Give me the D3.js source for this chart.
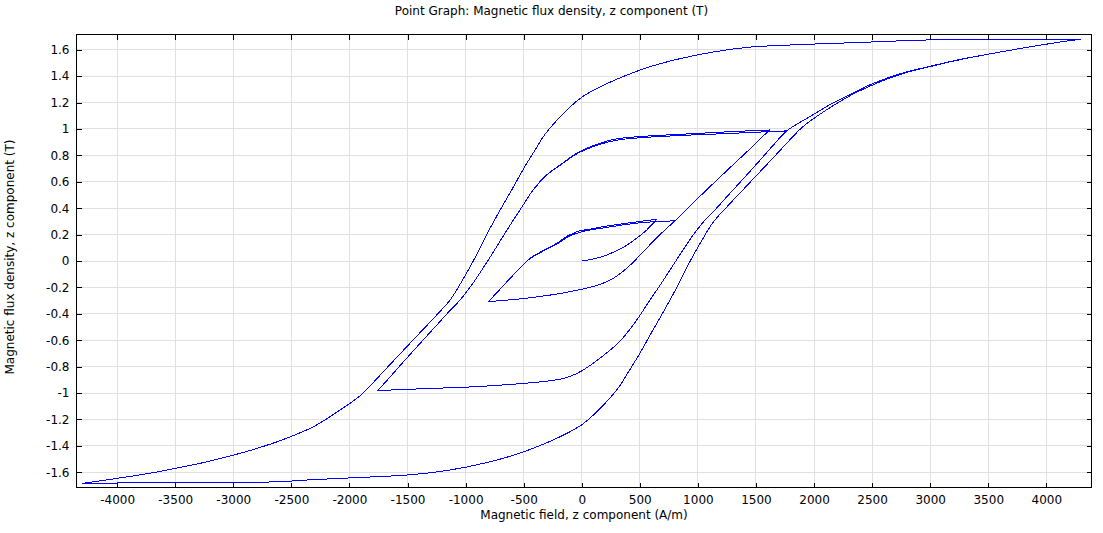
<!DOCTYPE html>
<html><head><meta charset="utf-8">
<script src="https://cdn.jsdelivr.net/npm/d3@7/dist/d3.min.js"></script>
<style>
body{margin:0;background:#fff}
text{font-family:"DejaVu Sans",sans-serif;font-size:12px;fill:#000}
</style>
</head><body>
<svg id="c" width="1103" height="533"></svg>
<script>
// ---- data (H in A/m, B in T) ----
const xTicks = [-4000,-3500,-3000,-2500,-2000,-1500,-1000,-500,0,500,1000,1500,2000,2500,3000,3500,4000];
const yTicks = [-1.6,-1.4,-1.2,-1,-0.8,-0.6,-0.4,-0.2,0,0.2,0.4,0.6,0.8,1,1.2,1.4,1.6];
const yTickLabels = ["-1.6","-1.4","-1.2","-1","-0.8","-0.6","-0.4","-0.2","0","0.2","0.4","0.6","0.8","1","1.2","1.4","1.6"];

const initH = [0, 100, 215, 350, 473, 560, 646];
const initB = [0, 0.015, 0.045, 0.10, 0.172, 0.235, 0.316];

const smallUp1H = [646, 520, 387, 200, 50, -15, -120, -215, -330, -445, -530, -617, -710, -804];
const smallUp1B = [0.316, 0.302, 0.286, 0.262, 0.238, 0.23, 0.19, 0.134, 0.08, 0.02, -0.05, -0.131, -0.22, -0.308];

const smallUp2H = [803, 700, 531, 387, 200, 0, -120, -215, -330, -445, -530, -617, -710, -804];
const smallUp2B = [0.305, 0.300, 0.292, 0.277, 0.252, 0.222, 0.182, 0.128, 0.076, 0.018, -0.052, -0.132, -0.22, -0.308];

const smallLowH = [-804, -700, -560, -400, -250, -100, 0, 150, 272, 400, 530, 650, 803, 1018, 1250, 1450, 1560, 1620];
const smallLowB = [-0.308, -0.300, -0.29, -0.273, -0.255, -0.232, -0.214, -0.18, -0.131, -0.045, 0.07, 0.18, 0.305, 0.49, 0.685, 0.85, 0.945, 0.992];

const midUp1H = [1620, 1300, 1018, 750, 502, 300, 158, 60, -43, -187, -301, -417, -503, -589, -700, -810, -950, -1047, -1150, -1250, -1350, -1450, -1550, -1650, -1759];
const midUp1B = [0.992, 0.980, 0.967, 0.955, 0.942, 0.925, 0.892, 0.86, 0.816, 0.727, 0.652, 0.54, 0.425, 0.31, 0.155, 0.0, -0.185, -0.295, -0.39, -0.487, -0.583, -0.68, -0.778, -0.878, -0.983];

const midUp2H = [1765, 1500, 1200, 1018, 750, 502, 300, 158, 60, -43, -187, -301, -417];
const midUp2B = [0.985, 0.975, 0.963, 0.957, 0.946, 0.933, 0.915, 0.884, 0.853, 0.811, 0.725, 0.651, 0.54];

const midLowH = [-1759, -1600, -1300, -919, -700, -503, -300, -158, -50, 57, 180, 315, 430, 510, 588, 700, 810, 950, 1047, 1150, 1250, 1350, 1450, 1550, 1650, 1765, 1964, 2150, 2311, 2511, 2750, 2999, 3250, 3501, 3750, 4003, 4150, 4300];
const midLowB = [-0.983, -0.975, -0.965, -0.952, -0.94, -0.927, -0.91, -0.889, -0.855, -0.80, -0.72, -0.62, -0.50, -0.40, -0.295, -0.15, 0.0, 0.185, 0.295, 0.39, 0.487, 0.583, 0.68, 0.778, 0.878, 0.985, 1.093, 1.19, 1.262, 1.345, 1.42, 1.474, 1.525, 1.566, 1.605, 1.642, 1.662, 1.680];

const bigUpH = [4300, 3750, 2999, 2311, 2040, 1700, 1442, 1150, 826, 550, 301, 150, 0, -120, -230, -320, -402, -500, -603, -700, -800, -934, -1040, -1133, -1250, -1400, -1550, -1700, -1800, -1908, -2100, -2311, -2583, -2800, -3000, -3250, -3502, -3750, -4003, -4150, -4300];
const bigUpB = [1.680, 1.678, 1.674, 1.652, 1.644, 1.632, 1.619, 1.585, 1.528, 1.46, 1.376, 1.315, 1.24, 1.15, 1.05, 0.955, 0.84, 0.70, 0.538, 0.39, 0.23, 0.0, -0.165, -0.295, -0.41, -0.55, -0.69, -0.83, -0.925, -1.02, -1.14, -1.255, -1.356, -1.42, -1.47, -1.525, -1.571, -1.612, -1.646, -1.665, -1.684];

const bigLowH = [-4300, -4003, -3502, -3000, -2626, -2300, -1909, -1500, -1150, -826, -550, -301, -150, 0, 120, 230, 320, 402, 500, 603, 700, 800, 934, 1040, 1133, 1250, 1400, 1550, 1700, 1800, 1908, 2100, 2311, 2511, 2750, 2999, 3250, 3501, 3750, 4003, 4150, 4300];
const bigLowB = [-1.684, -1.681, -1.680, -1.676, -1.672, -1.655, -1.639, -1.62, -1.585, -1.528, -1.46, -1.376, -1.315, -1.24, -1.15, -1.05, -0.955, -0.84, -0.70, -0.538, -0.39, -0.23, 0.0, 0.165, 0.295, 0.41, 0.55, 0.69, 0.83, 0.925, 1.02, 1.14, 1.252, 1.335, 1.415, 1.472, 1.523, 1.566, 1.605, 1.642, 1.662, 1.680];

const branches = [
  [initH, initB], [smallUp1H, smallUp1B], [smallLowH, smallLowB], [smallUp2H, smallUp2B],
  [midUp1H, midUp1B], [midLowH, midLowB], [midUp2H, midUp2B],
  [bigUpH, bigUpB], [bigLowH, bigLowB]
];

// ---- layout ----
const L = 76.5, R = 1091.5, T = 34.5, B = 487.5;
const x = d3.scaleLinear().domain([-4350, 4389]).range([L, R]);
const y = d3.scaleLinear().domain([-1.715, 1.715]).range([B, T]);
const svg = d3.select("#c");
svg.append("rect").attr("width",1103).attr("height",533).attr("fill","#fff");

const rx = v => Math.round(x(v) - 0.5) + 0.5;
const ry = v => Math.round(y(v) - 0.5) + 0.5;

// grid
const grid = svg.append("g").attr("stroke","#e0e0e0").attr("stroke-width",1).attr("shape-rendering","crispEdges");
grid.selectAll("line.vx").data(xTicks).enter().append("line")
  .attr("x1", rx).attr("x2", rx).attr("y1", T).attr("y2", B);
grid.selectAll("line.hy").data(yTicks).enter().append("line")
  .attr("x1", L).attr("x2", R).attr("y1", ry).attr("y2", ry);

// curves
svg.append("clipPath").attr("id","clip").append("rect").attr("x",L).attr("y",T).attr("width",R-L).attr("height",B-T);
const line = d3.line().x(d => x(d[0])).y(d => y(d[1])).curve(d3.curveCatmullRom.alpha(0.5));
const cg = svg.append("g").attr("clip-path","url(#clip)");
branches.forEach(([hs, bs]) => {
  const pts = hs.map((h, i) => [h, bs[i]]);
  cg.append("path").attr("d", line(pts)).attr("fill","none").attr("stroke","#0000ff")
    .attr("stroke-width",1).attr("shape-rendering","crispEdges");
});

// axes (inward ticks on all four sides)
function styleAxis(g){ g.select(".domain").remove(); g.selectAll(".tick line").attr("stroke","#000").attr("shape-rendering","crispEdges"); g.selectAll("text").attr("fill","#000").style("font-family","\"DejaVu Sans\",sans-serif").style("font-size","12px"); }
svg.append("g").attr("transform",`translate(0,${B})`)
  .call(d3.axisBottom(x).tickValues(xTicks).tickSize(-5).tickPadding(8).tickFormat(d => String(d)))
  .call(styleAxis);
svg.append("g").attr("transform",`translate(0,${T})`)
  .call(d3.axisTop(x).tickValues(xTicks).tickSize(-5).tickFormat(""))
  .call(styleAxis);
svg.append("g").attr("transform",`translate(${L},0)`)
  .call(d3.axisLeft(y).tickValues(yTicks).tickSize(-5).tickPadding(7).tickFormat((d,i) => yTickLabels[i]))
  .call(styleAxis);
svg.append("g").attr("transform",`translate(${R},0)`)
  .call(d3.axisRight(y).tickValues(yTicks).tickSize(-5).tickFormat(""))
  .call(styleAxis);

// frame
svg.append("rect").attr("x",L).attr("y",T).attr("width",R-L).attr("height",B-T)
  .attr("fill","none").attr("stroke","#000").attr("shape-rendering","crispEdges");

// titles
svg.append("text").attr("x",551.5).attr("y",14.5).attr("text-anchor","middle")
  .text("Point Graph: Magnetic flux density, z component (T)");
svg.append("text").attr("x",584).attr("y",519).attr("text-anchor","middle")
  .text("Magnetic field, z component (A/m)");
svg.append("text").attr("transform","translate(14,257) rotate(-90)").attr("text-anchor","middle")
  .text("Magnetic flux density, z component (T)");
</script>
</body></html>
